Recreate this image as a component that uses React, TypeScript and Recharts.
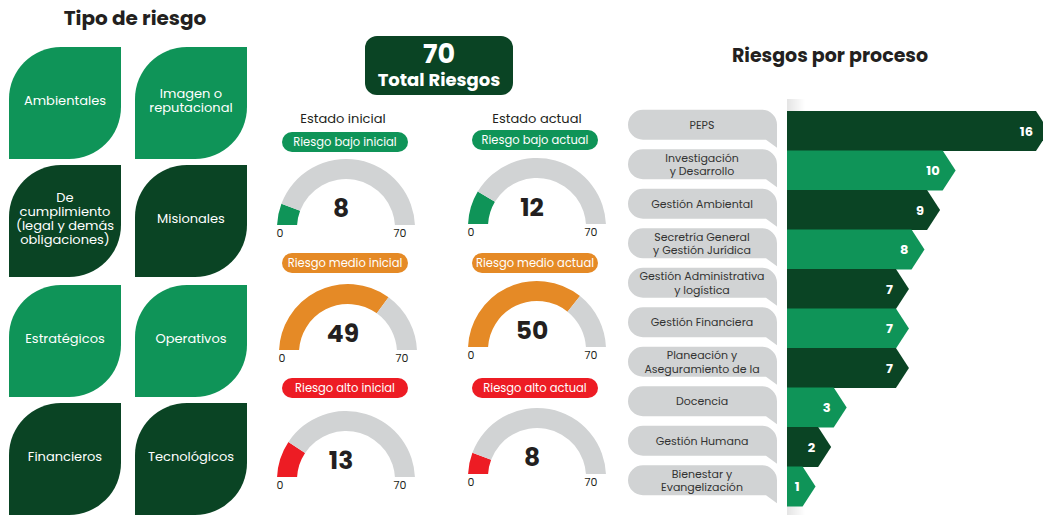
import { PieChart, Pie, Cell, BarChart, Bar, XAxis, YAxis } from 'recharts'

const FONT = "Poppins, Inter, 'DejaVu Sans', sans-serif"
const VERDE = '#0f9458'
const VERDE_OSCURO = '#0a4424'
const GRIS = '#d1d3d4'
const TEXTO = '#231f20'

// tipos de riesgo (hojas)
const tiposRiesgo = [
  'Ambientales',
  'Imagen o\nreputacional',
  'De\ncumplimiento\n(legal y demás\nobligaciones)',
  'Misionales',
  'Estratégicos',
  'Operativos',
  'Financieros',
  'Tecnológicos',
]

const totalRiesgos = 70
const nivelesRiesgo = ['bajo', 'medio', 'alto']
const coloresNivel = [VERDE, '#e58a26', '#ed1c24']
const estadoInicial = [8, 49, 13]
const estadoActual = [12, 50, 8]

const procesos = [
  'PEPS',
  'Investigación\ny Desarrollo',
  'Gestión Ambiental',
  'Secretría General\ny Gestión Jurídica',
  'Gestión Administrativa\ny logística',
  'Gestión Financiera',
  'Planeación y\nAseguramiento de la',
  'Docencia',
  'Gestión Humana',
  'Bienestar y\nEvangelización',
]
const riesgosPorProceso = [16, 10, 9, 8, 7, 7, 7, 3, 2, 1]

const barData = procesos.map((p, i) => ({ proceso: p, riesgos: riesgosPorProceso[i] }))

function Hoja({ texto, left, top, oscuro }: { texto: string; left: number; top: number; oscuro: boolean }) {
  return (
    <div
      style={{
        position: 'absolute', left, top, width: 112, height: 112,
        background: oscuro ? VERDE_OSCURO : VERDE,
        borderRadius: '52px 0 52px 0',
        display: 'flex', alignItems: 'center', justifyContent: 'center',
        color: '#fff', fontSize: 13, lineHeight: '14px', textAlign: 'center',
        whiteSpace: 'pre-line', paddingBottom: 4, boxSizing: 'border-box',
      }}
    >
      {texto}
    </div>
  )
}

function Gauge({ value, max, color, cx, cy }: { value: number; max: number; color: string; cx: number; cy: number }) {
  const data = [{ name: 'valor', v: value }, { name: 'resto', v: max - value }]
  return (
    <div style={{ position: 'absolute', left: cx - 80, top: cy - 80, width: 160, height: 100 }}>
      <PieChart width={160} height={82}>
        <Pie
          data={data} dataKey="v" cx={80} cy={80}
          startAngle={180} endAngle={0}
          innerRadius={49} outerRadius={69}
          stroke="none" isAnimationActive={false}
        >
          <Cell fill={color} />
          <Cell fill={GRIS} />
        </Pie>
      </PieChart>
      <div style={{ position: 'absolute', left: 0, width: 160, top: 52, textAlign: 'center', fontSize: 25, fontWeight: 700, color: TEXTO, lineHeight: '28px' }}>
        {value}
      </div>
      <div style={{ position: 'absolute', left: 12, width: 14, top: 83, textAlign: 'center', fontSize: 11, color: TEXTO, lineHeight: '14px' }}>0</div>
      <div style={{ position: 'absolute', left: 128, width: 22, top: 83, textAlign: 'center', fontSize: 11, color: TEXTO, lineHeight: '14px' }}>{max}</div>
    </div>
  )
}

function Pastilla({ texto, color, cx, top }: { texto: string; color: string; cx: number; top: number }) {
  return (
    <div
      style={{
        position: 'absolute', left: cx - 63, top, width: 126, height: 20, borderRadius: 10,
        background: color, color: '#fff', fontSize: 11.5, lineHeight: '20px', textAlign: 'center',
      }}
    >
      {texto}
    </div>
  )
}

const Burbuja = (props: any) => {
  const { y, payload } = props
  const x0 = 8, x1 = 157, r = 15
  const t = y - 21, b = y + 9
  const d = `M${x0 + r},${t} H${x1 - r} A${r},${r} 0 0 1 ${x1},${t + r} V${b + 8} L${x1 - 11},${b} H${x0 + r} A${r},${r} 0 0 1 ${x0},${b - r} V${t + r} A${r},${r} 0 0 1 ${x0 + r},${t} Z`
  const lines = String(payload.value).split('\n')
  const paso = 13.5
  const cyText = t + 15 - ((lines.length - 1) * paso) / 2
  return (
    <g>
      <path d={d} fill={GRIS} />
      <text x={82} y={cyText} textAnchor="middle" dominantBaseline="central" fontSize={11} fill="#333" fontFamily={FONT}>
        {lines.map((l, i) => (
          <tspan key={i} x={82} dy={i === 0 ? 0 : paso}>{l}</tspan>
        ))}
      </text>
    </g>
  )
}

const Flecha = (props: any) => {
  const { x, y, width, height, index, payload } = props
  const punta = 13
  const fill = index % 2 === 0 ? VERDE_OSCURO : VERDE
  const d = `M${x},${y} H${x + width} L${x + width + punta},${y + height / 2} L${x + width},${y + height} H${x} Z`
  return (
    <g>
      <path d={d} fill={fill} />
      <text x={x + width - 3} y={y + height / 2} textAnchor="end" dominantBaseline="central" fontSize={13} fontWeight={700} fill="#fff" fontFamily={FONT}>
        {payload.riesgos}
      </text>
    </g>
  )
}

export default function App() {
  const colLeft = [9, 135]
  const rowTop = [47, 165, 285, 403]
  const pillTopIni = [132, 253, 378]
  const pillTopAct = [130, 253, 378]
  const cyIni = [223, 348, 475]
  const cyAct = [222, 345, 472]
  const cxIni = [341, 343, 341]

  return (
    <div style={{ position: 'absolute', left: 0, top: 0, width: 1043, height: 515, background: '#fff', fontFamily: FONT, overflow: 'hidden' }}>
      <div style={{ position: 'absolute', left: 0, width: 270, top: 5, textAlign: 'center', fontSize: 20, fontWeight: 700, color: TEXTO, lineHeight: '26px' }}>
        Tipo de riesgo
      </div>
      {tiposRiesgo.map((t, i) => (
        <Hoja key={t} texto={t} left={colLeft[i % 2]} top={rowTop[Math.floor(i / 2)]} oscuro={Math.floor(i / 2) % 2 === 1} />
      ))}

      <div style={{ position: 'absolute', left: 365, top: 36, width: 148, height: 59, borderRadius: 12, background: VERDE_OSCURO, color: '#fff', textAlign: 'center', fontWeight: 700 }}>
        <div style={{ fontSize: 27, lineHeight: '30px', marginTop: 3 }}>{totalRiesgos}</div>
        <div style={{ fontSize: 18, lineHeight: '22px' }}>Total Riesgos</div>
      </div>

      <div style={{ position: 'absolute', left: 283, width: 120, top: 110, textAlign: 'center', fontSize: 13, color: TEXTO, lineHeight: '18px' }}>Estado inicial</div>
      <div style={{ position: 'absolute', left: 477, width: 120, top: 110, textAlign: 'center', fontSize: 13, color: TEXTO, lineHeight: '18px' }}>Estado actual</div>

      {nivelesRiesgo.map((n, i) => (
        <div key={n}>
          <Pastilla texto={`Riesgo ${n} inicial`} color={coloresNivel[i]} cx={345} top={pillTopIni[i]} />
          <Pastilla texto={`Riesgo ${n} actual`} color={coloresNivel[i]} cx={535} top={pillTopAct[i]} />
          <Gauge value={estadoInicial[i]} max={totalRiesgos} color={coloresNivel[i]} cx={cxIni[i]} cy={cyIni[i]} />
          <Gauge value={estadoActual[i]} max={totalRiesgos} color={coloresNivel[i]} cx={532} cy={cyAct[i]} />
        </div>
      ))}

      <div style={{ position: 'absolute', left: 660, width: 340, top: 43, textAlign: 'center', fontSize: 19, fontWeight: 700, color: TEXTO, lineHeight: '26px' }}>
        Riesgos por proceso
      </div>
      <div style={{ position: 'absolute', left: 787, top: 99, width: 18, height: 416, background: 'linear-gradient(to right, #e4e4e4, #ffffff)' }} />
      <div style={{ position: 'absolute', left: 620, top: 0 }}>
        <BarChart width={423} height={515} data={barData} layout="vertical" margin={{ top: 111, right: 7, bottom: 9, left: 0 }} barCategoryGap={0}>
          <XAxis type="number" domain={[0, 16]} hide />
          <YAxis type="category" dataKey="proceso" width={167} axisLine={false} tickLine={false} interval={0} tick={<Burbuja />} />
          <Bar dataKey="riesgos" shape={<Flecha />} isAnimationActive={false} />
        </BarChart>
      </div>
    </div>
  )
}
